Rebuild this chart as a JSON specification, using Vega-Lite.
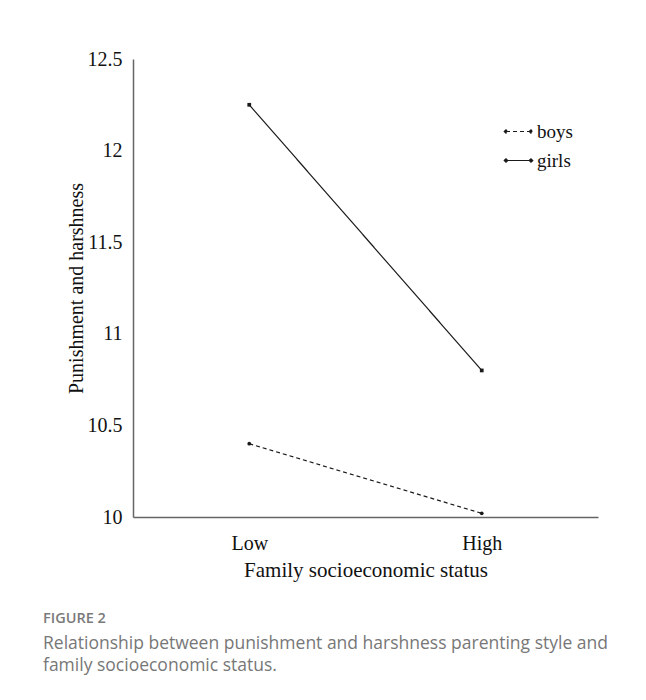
{
  "$schema": "https://vega.github.io/schema/vega-lite/v6.json",
  "autosize": "none",
  "width": 465,
  "height": 458,
  "padding": {"left": 133, "top": 59, "right": 48, "bottom": 183},
  "background": "white",
  "config": {"view": {"stroke": null}},
  "data": {
    "values": [
      {"ses": "Low", "gender": "boys", "value": 10.40},
      {"ses": "High", "gender": "boys", "value": 10.02},
      {"ses": "Low", "gender": "girls", "value": 12.25},
      {"ses": "High", "gender": "girls", "value": 10.80}
    ]
  },
  "title": {
    "text": "FIGURE 2",
    "subtitle": ["Relationship between punishment and harshness parenting style and", "family socioeconomic status."],
    "orient": "bottom",
    "anchor": "start",
    "frame": "group",
    "dx": -90,
    "offset": 32,
    "font": "Open Sans",
    "fontSize": 14.5,
    "fontWeight": 600,
    "color": "#7a7a7a",
    "subtitleFont": "Open Sans",
    "subtitleFontSize": 17.5,
    "subtitleFontWeight": 400,
    "subtitleColor": "#777777",
    "subtitleLineHeight": 22,
    "subtitlePadding": 8
  },
  "encoding": {
    "x": {
      "field": "ses",
      "type": "ordinal",
      "scale": {"type": "point", "domain": ["Low", "High"], "padding": 0.5},
      "axis": {
        "title": "Family socioeconomic status",
        "labelAngle": 0,
        "ticks": false,
        "grid": false,
        "domainColor": "#666666",
        "domainWidth": 1.5,
        "labelFont": "Liberation Serif",
        "labelFontSize": 20,
        "labelColor": "#111111",
        "labelPadding": 16,
        "titleFont": "Liberation Serif",
        "titleFontSize": 21,
        "titleFontWeight": "normal",
        "titleColor": "#111111",
        "titlePadding": 6
      }
    },
    "y": {
      "field": "value",
      "type": "quantitative",
      "scale": {"domain": [10, 12.5], "nice": false, "zero": false},
      "axis": {
        "title": "Punishment and harshness",
        "values": [10, 10.5, 11, 11.5, 12, 12.5],
        "labelExpr": "'' + datum.value",
        "ticks": false,
        "grid": false,
        "domainColor": "#666666",
        "domainWidth": 1.5,
        "labelFont": "Liberation Serif",
        "labelFontSize": 20,
        "labelColor": "#111111",
        "labelPadding": 11,
        "titleFont": "Liberation Serif",
        "titleFontSize": 20,
        "titleFontWeight": "normal",
        "titleColor": "#111111",
        "titlePadding": 1
      }
    }
  },
  "layer": [
    {
      "mark": {"type": "line", "color": "#1a1a1a", "strokeWidth": 1.2},
      "encoding": {
        "strokeDash": {
          "field": "gender",
          "type": "nominal",
          "scale": {"domain": ["boys", "girls"], "range": [[4, 3], [1, 0]]},
          "legend": {
            "title": null,
            "orient": "none",
            "legendX": 372,
            "legendY": 59,
            "padding": 0,
            "symbolType": "M-1,0H1M-1.14,0L-1,-0.14L-0.86,0L-1,0.14ZM0.86,0L1,-0.14L1.14,0L1,0.14Z",
            "symbolSize": 625,
            "symbolStrokeColor": "#1a1a1a",
            "symbolFillColor": "#1a1a1a",
            "symbolStrokeWidth": 1.2,
            "labelFont": "Liberation Serif",
            "labelFontSize": 19,
            "labelColor": "#111111",
            "labelOffset": 5,
            "rowPadding": 5
          }
        }
      }
    },
    {
      "mark": {"type": "point", "filled": true, "color": "#1a1a1a", "opacity": 1, "size": 14},
      "encoding": {
        "shape": {
          "condition": {"test": "datum.gender === 'girls'", "value": "square"},
          "value": "circle"
        }
      }
    }
  ]
}
